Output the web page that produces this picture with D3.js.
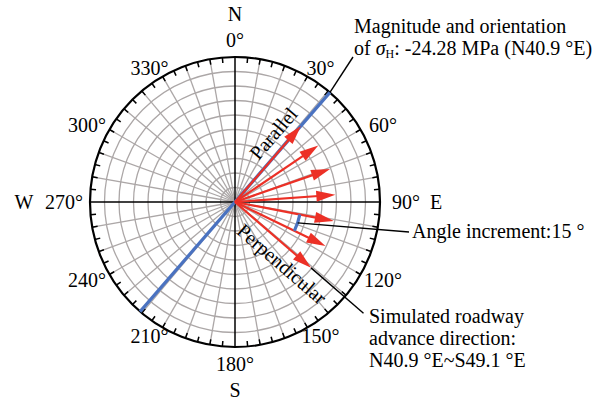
<!DOCTYPE html>
<html>
<head>
<meta charset="utf-8">
<script src="https://cdn.jsdelivr.net/npm/d3@7"></script>
<style>
  html, body { margin: 0; padding: 0; background: #fff; }
  svg { display: block; font-family: "Liberation Serif", "Times New Roman", serif; }
</style>
</head>
<body>
<div id="chart"></div>
<script>
// stress directions (compass degrees, clockwise from N) and magnitudes (MPa, absolute)
const arrowAngles = [40.9, 55.9, 70.9, 85.9, 100.9, 115.9, 130.9];
const arrowMagnitudes = [24.28, 24.28, 24.28, 24.28, 24.28, 24.28, 24.28];
const sigmaHAngle = 40.9;
const degreeLabels = [0, 30, 60, 90, 120, 150, 180, 210, 240, 270, 300, 330];
const compassLabels = [
  { text: 'N', angle: 0 },
  { text: 'E', angle: 90 },
  { text: 'S', angle: 180 },
  { text: 'W', angle: 270 }
];
const radialMax = 35;
const ringStep = 3.5;
const spokeStep = 10;
const tickStep = 5;

const width = 604, height = 404;
const cx = 235, cy = 202, R = 145;
const fontSize = 20;
const red = '#ec3026', blue = '#4a72c0', grey = '#aca7a7';

const svg = d3.select('#chart').append('svg')
  .attr('width', width).attr('height', height)
  .attr('viewBox', `0 0 ${width} ${height}`);

const r = d3.scaleLinear().domain([0, radialMax]).range([0, R]);
const rad = d => d * Math.PI / 180;
// compass angle to screen point
const pt = (ang, rr) => [cx + rr * Math.sin(rad(ang)), cy - rr * Math.cos(rad(ang))];

const g = svg.append('g');

// grid rings
g.selectAll('circle.ring')
  .data(d3.range(ringStep, radialMax - 0.01, ringStep))
  .join('circle')
  .attr('class', 'ring')
  .attr('cx', cx).attr('cy', cy)
  .attr('r', d => r(d))
  .attr('fill', 'none').attr('stroke', grey).attr('stroke-width', 1.3);

// grid spokes
g.selectAll('line.spoke')
  .data(d3.range(0, 360, spokeStep).filter(a => a % 90 !== 0))
  .join('line')
  .attr('class', 'spoke')
  .attr('x1', cx).attr('y1', cy)
  .attr('x2', a => pt(a, R)[0]).attr('y2', a => pt(a, R)[1])
  .attr('stroke', grey).attr('stroke-width', 1.3);

// main axes
[0, 90].forEach(a => {
  const p1 = pt(a, R), p2 = pt(a + 180, R);
  g.append('line')
    .attr('x1', p1[0]).attr('y1', p1[1]).attr('x2', p2[0]).attr('y2', p2[1])
    .attr('stroke', '#000').attr('stroke-width', 1.5);
});

// outer circle and ticks
g.append('circle')
  .attr('cx', cx).attr('cy', cy).attr('r', R)
  .attr('fill', 'none').attr('stroke', '#000').attr('stroke-width', 2.2);

g.selectAll('line.tick')
  .data(d3.range(0, 360, tickStep).filter(a => a % 90 !== 0))
  .join('line')
  .attr('class', 'tick')
  .attr('x1', a => pt(a, R)[0]).attr('y1', a => pt(a, R)[1])
  .attr('x2', a => pt(a, R - 5.5)[0]).attr('y2', a => pt(a, R - 5.5)[1])
  .attr('stroke', '#000').attr('stroke-width', 1.5);

// degree labels (slightly elliptical placement, as in the figure)
g.selectAll('text.deg')
  .data(degreeLabels)
  .join('text')
  .attr('class', 'deg')
  .attr('font-size', fontSize)
  .attr('text-anchor', 'middle')
  .attr('dominant-baseline', 'central')
  .attr('x', d => cx + 171 * Math.sin(rad(d)))
  .attr('y', d => {
    const c = Math.cos(rad(d));
    return cy - (Math.abs(c) > 0.99 ? 162 : 155) * c;
  })
  .text(d => d + '°');

// compass letters
const compassPos = { 0: [cx, 14], 90: [436, 202], 180: [cx, 390], 270: [24, 202] };
g.selectAll('text.compass')
  .data(compassLabels)
  .join('text')
  .attr('class', 'compass')
  .attr('font-size', fontSize)
  .attr('text-anchor', 'middle')
  .attr('dominant-baseline', 'central')
  .attr('x', d => compassPos[d.angle][0])
  .attr('y', d => compassPos[d.angle][1])
  .text(d => d.text);

// sigma H orientation line (full diameter)
const b1 = pt(sigmaHAngle, R), b2 = pt(sigmaHAngle + 180, R);
g.append('line')
  .attr('x1', b1[0]).attr('y1', b1[1]).attr('x2', b2[0]).attr('y2', b2[1])
  .attr('stroke', blue).attr('stroke-width', 3.2);

// red arrows
const arrows = g.append('g');
arrowAngles.forEach((a, i) => {
  const len = r(arrowMagnitudes[i]);
  const head = 19, hw = 5.5;
  const tip = pt(a, len), base = pt(a, len - head);
  const lineEnd = pt(a, len - head + 2);
  arrows.append('line')
    .attr('x1', cx).attr('y1', cy).attr('x2', lineEnd[0]).attr('y2', lineEnd[1])
    .attr('stroke', red).attr('stroke-width', 2.2);
  const px = Math.cos(rad(a)) * hw, py = Math.sin(rad(a)) * hw;
  arrows.append('path')
    .attr('d', `M${tip[0]},${tip[1]}L${base[0] + px},${base[1] + py}L${base[0] - px},${base[1] - py}Z`)
    .attr('fill', red);
});

// angle increment arc
const arcR = 66;
const arc = d3.arc()
  .innerRadius(arcR - 1.6).outerRadius(arcR + 1.6)
  .startAngle(rad(arrowAngles[4])).endAngle(rad(arrowAngles[5]));
g.append('path').attr('d', arc()).attr('transform', `translate(${cx},${cy})`).attr('fill', blue);

// leader lines
const leader = (p1, p2) => g.append('line')
  .attr('x1', p1[0]).attr('y1', p1[1]).attr('x2', p2[0]).attr('y2', p2[1])
  .attr('stroke', '#000').attr('stroke-width', 1.4);
leader(pt(sigmaHAngle, R), [353, 57]);
leader(pt((arrowAngles[4] + arrowAngles[5]) / 2, arcR), [409, 232]);
leader(pt(arrowAngles[6], r(arrowMagnitudes[6])), pt(arrowAngles[6], 170));

// rotated labels along directions; side = -1 to the left of the ray, +1 to the right
const along = (text, ang, dist, side, gap) => {
  const p = pt(ang, dist);
  const a = rad(ang);
  const q = [p[0] + side * gap * Math.cos(a), p[1] + side * gap * Math.sin(a)];
  g.append('text')
    .attr('font-size', fontSize)
    .attr('text-anchor', 'middle')
    .attr('dominant-baseline', 'central')
    .attr('transform', `translate(${q[0]},${q[1]}) rotate(${ang - 90})`)
    .text(text);
};
along('Parallel', sigmaHAngle, 77, -1, 16);
along('Perpendicular', arrowAngles[6], 76, 1, 16);

// annotations
const ann = g.append('g').attr('font-size', fontSize);
ann.append('text').attr('x', 354).attr('y', 33).text('Magnitude and orientation');
const t2 = ann.append('text').attr('x', 354).attr('y', 55);
t2.append('tspan').text('of ');
t2.append('tspan').attr('font-style', 'italic').text('σ');
t2.append('tspan').attr('font-size', 12).attr('dy', 3).text('H');
t2.append('tspan').attr('dy', -3).text(': -24.28 MPa (N40.9 °E)');

ann.append('text').attr('x', 412).attr('y', 238).text('Angle increment:15 °');
ann.append('text').attr('x', 369).attr('y', 323).text('Simulated roadway');
ann.append('text').attr('x', 369).attr('y', 345).text('advance direction:');
ann.append('text').attr('x', 369).attr('y', 367).text('N40.9 °E~S49.1 °E');
</script>
</body>
</html>
